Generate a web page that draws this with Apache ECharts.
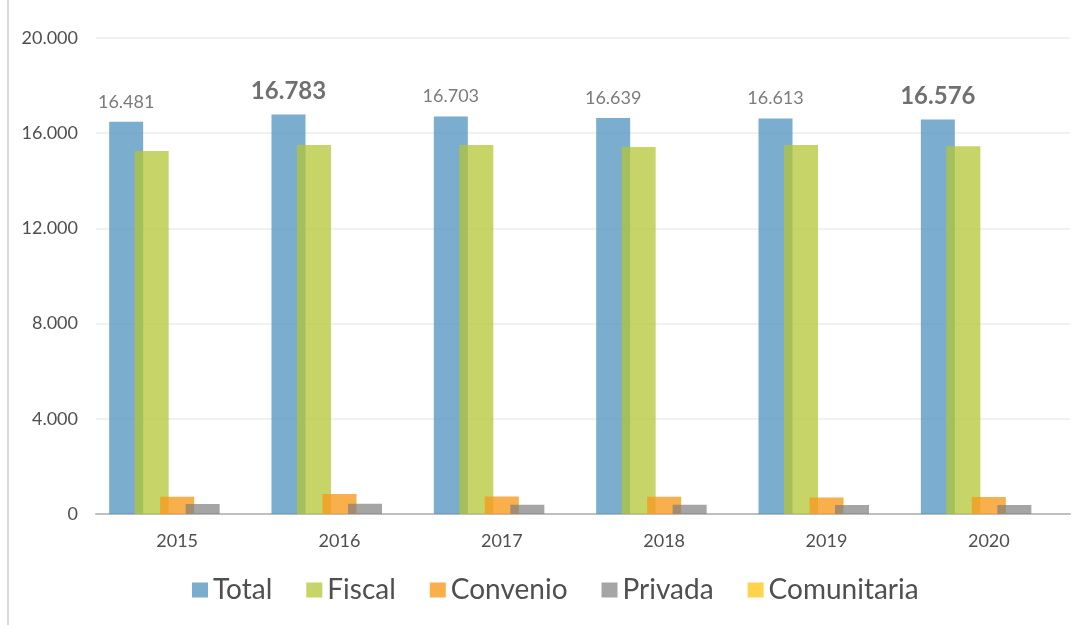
<!DOCTYPE html>
<html>
<head>
<meta charset="utf-8">
<script src="https://cdn.jsdelivr.net/npm/echarts@6/dist/echarts.min.js"></script>
<style>
  html, body { margin: 0; padding: 0; background: #fff; }
  #chart { width: 1086px; height: 625px; }
</style>
</head>
<body>
<div id="chart"></div>
<script>
// Years on the category axis
const years = ['2015', '2016', '2017', '2018', '2019', '2020'];

// Enrolment by funding type
const total       = [16481, 16783, 16703, 16639, 16613, 16576];
const fiscal      = [15250, 15500, 15500, 15420, 15500, 15450];
const convenio    = [730, 840, 740, 730, 690, 710];
const privada     = [420, 430, 390, 390, 380, 380];
const comunitaria = [0, 0, 0, 0, 0, 0];

// Years whose Total label is emphasised
const highlighted = ['2016', '2020'];

const FONT = 'Lato, "Liberation Sans", sans-serif';
const TXT = '#4f4f4f';

function fmt(v) {
  return String(Math.round(v)).replace(/\B(?=(\d{3})+(?!\d))/g, '.');
}

const totalData = total.map((v, i) => {
  if (highlighted.indexOf(years[i]) >= 0) {
    return {
      value: v,
      label: { fontSize: 24, fontWeight: 'bold', color: '#404040', distance: 11 }
    };
  }
  return v;
});

function barSeries(name, data, color, opacity, extra) {
  return Object.assign({
    name: name,
    type: 'bar',
    data: data,
    barWidth: 34,
    barGap: '-25%',
    itemStyle: { color: color, opacity: opacity },
    emphasis: { disabled: true }
  }, extra || {});
}

const chart = echarts.init(document.getElementById('chart'), null, { renderer: 'canvas' });

chart.setOption({
  animation: false,
  backgroundColor: '#ffffff',
  grid: { left: 96, right: 16, top: 38, bottom: 111, containLabel: false },
  graphic: [{
    type: 'rect',
    left: 7, top: 0,
    shape: { width: 2, height: 625 },
    style: { fill: '#d9d9d9' },
    silent: true
  }],
  legend: {
    bottom: 16,
    left: 187,
    itemWidth: 16,
    itemHeight: 15,
    itemGap: 34,
    icon: 'rect',
    textStyle: { fontFamily: FONT, fontSize: 28, color: TXT },
    data: ['Total', 'Fiscal', 'Convenio', 'Privada', 'Comunitaria']
  },
  xAxis: {
    type: 'category',
    data: years,
    axisLine: { lineStyle: { color: '#bfbfbf', width: 2 } },
    axisTick: { show: false },
    axisLabel: { fontFamily: FONT, fontSize: 18, color: TXT, margin: 18 }
  },
  yAxis: {
    type: 'value',
    min: 0,
    max: 20000,
    interval: 4000,
    axisLine: { show: false },
    axisTick: { show: false },
    splitLine: { lineStyle: { color: '#ececec', width: 1.5 } },
    axisLabel: {
      fontFamily: FONT, fontSize: 18, color: TXT, margin: 18,
      formatter: fmt
    }
  },
  series: [
    barSeries('Total', totalData, '#4f91bd', 0.75, {
      label: {
        show: true,
        position: 'top',
        distance: 11,
        fontFamily: FONT,
        fontSize: 18,
        color: TXT,
        formatter: p => fmt(p.value)
      }
    }),
    barSeries('Fiscal', fiscal, '#b3c535', 0.75),
    barSeries('Convenio', convenio, '#f79b1f', 0.8),
    barSeries('Privada', privada, '#7f7f7f', 0.7),
    barSeries('Comunitaria', comunitaria, '#ffc000', 0.7)
  ]
});
</script>
</body>
</html>
